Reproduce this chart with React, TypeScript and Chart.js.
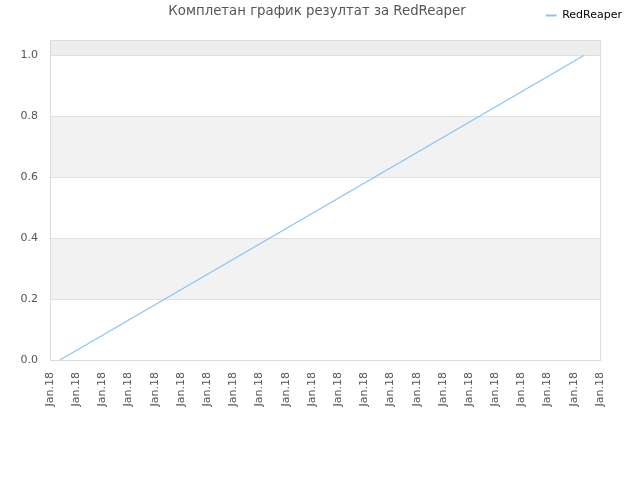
import {useEffect, useRef} from "react";
import {Chart, registerables} from "chart.js";

Chart.register(...registerables);

const TITLE = "Комплетан график резултат за RedReaper";
const SERIES_LABEL = "RedReaper";

// x positions of the two points on the tick scale (ticks 0..21)
const pointX = [0.38, 20.4];
const pointY = [0, 1];

const tickLabels = Array(22).fill("Jan.18");

// shaded y-bands [from, to, colour]
const bands: [number, number, string][] = [
  [0.2, 0.4, "#f2f2f2"],
  [0.6, 0.8, "#f2f2f2"],
  [1.0, 1.05, "#ededed"],
];

const FONT = "'DejaVu Sans', sans-serif";

const decorPlugin = {
  id: "decor",
  beforeInit(chart: any) {
    const legend = chart.legend;
    if (legend) {
      const origFit = legend.fit;
      legend.fit = function () {
        origFit.call(legend);
        legend.height = 40;
      };
    }
  },
  beforeDatasetsDraw(chart: any) {
    const {ctx, chartArea, scales} = chart;
    const y = scales.y;
    ctx.save();
    bands.forEach(([a, b, c]) => {
      const top = y.getPixelForValue(b);
      const bottom = y.getPixelForValue(a);
      ctx.fillStyle = c;
      ctx.fillRect(chartArea.left, top, chartArea.right - chartArea.left, bottom - top);
    });
    // horizontal grid lines
    ctx.strokeStyle = "#e0e0e0";
    ctx.lineWidth = 1;
    [0.2, 0.4, 0.6, 0.8, 1.0].forEach(v => {
      const py = Math.round(y.getPixelForValue(v)) + 0.5;
      ctx.beginPath();
      ctx.moveTo(chartArea.left, py);
      ctx.lineTo(chartArea.right, py);
      ctx.stroke();
    });
    ctx.strokeStyle = "#dcdcdc";
    ctx.strokeRect(
      Math.round(chartArea.left) + 0.5,
      Math.round(chartArea.top) + 0.5,
      Math.round(chartArea.right - chartArea.left),
      Math.round(chartArea.bottom - chartArea.top)
    );
    ctx.restore();
  },
  afterDraw(chart: any) {
    const {ctx} = chart;
    ctx.save();
    ctx.font = `13.3px ${FONT}`;
    ctx.fillStyle = "#555";
    ctx.textAlign = "center";
    ctx.textBaseline = "middle";
    ctx.fillText(TITLE, 317, 12);
    ctx.restore();
  },
};

export default function App() {
  const chartRef = useRef<HTMLCanvasElement>(null);
  const chartInstance = useRef<Chart | null>(null);

  useEffect(() => {
    document.body.style.margin = "0";
    if (!chartRef.current) return;
    if (chartInstance.current) chartInstance.current.destroy();

    const ctx = chartRef.current.getContext("2d");
    if (!ctx) return;

    chartInstance.current = new Chart(ctx, {
      type: "line",
      data: {
        datasets: [
          {
            label: SERIES_LABEL,
            data: pointX.map((x, i) => ({x, y: pointY[i]})),
            borderColor: "#8cc2f5",
            backgroundColor: "#8cc2f5",
            borderWidth: 1.2,
            pointRadius: 0,
            fill: false,
            tension: 0,
          },
        ],
      },
      options: {
        animation: false,
        responsive: false,
        layout: {padding: {left: 0, right: 8, top: 0, bottom: 0}},
        scales: {
          x: {
            type: "linear",
            min: 0,
            max: 21,
            afterBuildTicks: (scale: any) => {
              scale.ticks = tickLabels.map((_, i) => ({value: i}));
            },
            afterFit: (scale: any) => {
              scale.height = 120;
            },
            grid: {display: false, drawTicks: false},
            border: {display: false},
            ticks: {
              autoSkip: false,
              maxRotation: 90,
              minRotation: 90,
              padding: 12,
              color: "#555",
              font: {family: FONT, size: 11},
              callback: (_v: any, i: number) => tickLabels[i],
            },
          },
          y: {
            min: 0,
            max: 1.05,
            afterBuildTicks: (scale: any) => {
              scale.ticks = [0, 0.2, 0.4, 0.6, 0.8, 1.0].map(v => ({value: v}));
            },
            afterFit: (scale: any) => {
              scale.width = 50;
            },
            grid: {display: false, drawTicks: false},
            border: {display: false},
            ticks: {
              padding: 12,
              color: "#555",
              font: {family: FONT, size: 11},
              callback: (v: any) => Number(v).toFixed(1),
            },
          },
          yRight: {
            position: "right",
            display: true,
            afterFit: (scale: any) => {
              scale.width = 32;
            },
            grid: {display: false, drawTicks: false},
            border: {display: false},
            ticks: {display: false},
          },
        },
        plugins: {
          title: {display: false},
          tooltip: {enabled: false},
          legend: {
            display: true,
            position: "top",
            align: "end",
            labels: {
              boxWidth: 11,
              boxHeight: 2,
              padding: 10,
              color: "#222",
              font: {family: FONT, size: 11},
              generateLabels: (chart: any) =>
                chart.data.datasets.map((ds: any, i: number) => ({
                  text: ds.label,
                  fillStyle: ds.borderColor,
                  strokeStyle: ds.borderColor,
                  lineWidth: 0,
                  datasetIndex: i,
                  hidden: false,
                })),
            },
          },
        },
      },
      plugins: [decorPlugin],
    } as any);

    return () => {
      if (chartInstance.current) {
        chartInstance.current.destroy();
        chartInstance.current = null;
      }
    };
  }, []);

  return (
    <div style={{width: 640, height: 480}}>
      <canvas ref={chartRef} width={640} height={480} />
    </div>
  );
}
